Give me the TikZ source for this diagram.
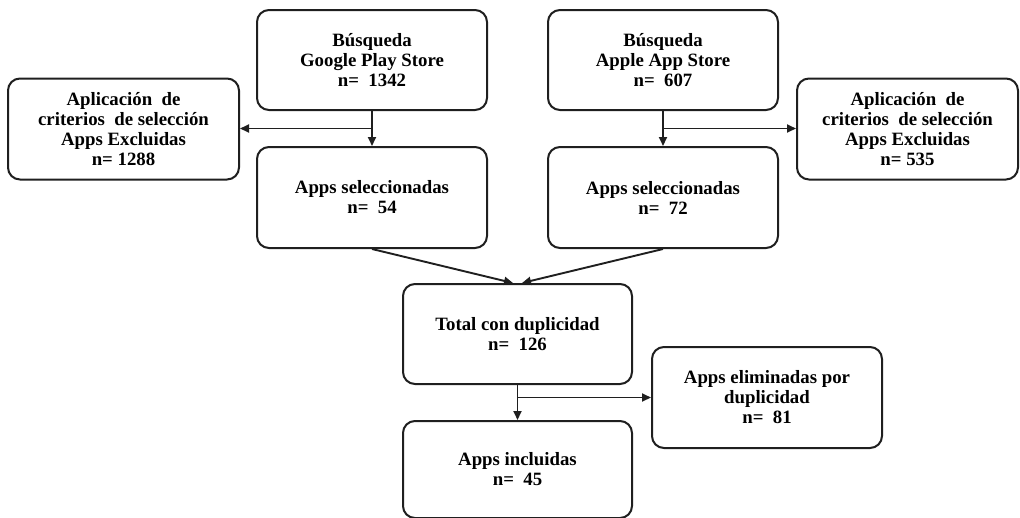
\documentclass[tikz,border=0pt]{standalone}
\usepackage{fontspec}
\setmainfont{Liberation Serif}
\usetikzlibrary{arrows.meta,calc}
\begin{document}
\begin{tikzpicture}[x=1pt,y=-1pt,
  flowbox/.style={draw=black!88, line width=2pt, rounded corners=12pt, align=center,
    inner sep=0pt, minimum width=#1, minimum height=100pt,
    font=\fontsize{18.8}{20}\selectfont\bfseries},
  flowbox/.default=230pt,
  arr/.style={draw=black!88, line width=1.9pt, -{Triangle[length=9pt,width=8pt]}}]
\useasboundingbox (0,0) rectangle (1020,517);
\clip (0,0) rectangle (1020,517);
\node[flowbox] (gps) at (372,60) {Búsqueda\\Google Play Store\\n=~ 1342};
\node[flowbox] (apple) at (663,60) {Búsqueda\\Apple App Store\\n=~ 607};
\node[flowbox=231pt, minimum height=101pt] (exL) at (123.5,129) {Aplicación~ de\\criterios~ de selección\\Apps Excluidas\\n= 1288};
\node[flowbox=221pt, minimum height=101pt] (exR) at (907.5,129) {Aplicación~ de\\criterios~ de selección\\Apps Excluidas\\n= 535};
\node[flowbox, minimum height=101pt] (selL) at (372,197.5) {Apps seleccionadas\\n=~ 54};
\node[flowbox, minimum height=101pt] (selR) at (663,197.5) {Apps seleccionadas\\n=~ 72};
\node[flowbox=229pt] (total) at (517.5,334) {Total con duplicidad\\n=~ 126};
\node[flowbox=229pt, minimum height=97pt] (incl) at (517.5,469.5) {Apps incluidas\\n=~ 45};
\node[flowbox, minimum height=101pt] (dup) at (767,397.5) {Apps eliminadas por\\duplicidad\\n=~ 81};
% left branch
\coordinate (bl) at ($(gps.south)!0.5!(selL.north)$);
\draw[arr] (gps.south) -- (selL.north);
\draw[arr] (bl) -- (bl -| exL.east);
% right branch
\coordinate (br) at ($(apple.south)!0.5!(selR.north)$);
\draw[arr] (apple.south) -- (selR.north);
\draw[arr] (br) -- (br -| exR.west);
% merge
\draw[arr] (selL.south) -- ([xshift=-4.5pt]total.north);
\draw[arr] (selR.south) -- ([xshift=4.5pt]total.north);
% bottom branch
\coordinate (bd) at (total.south |- dup.west);
\draw[arr] (total.south) -- (incl.north);
\draw[arr] (bd) -- (dup.west);
\end{tikzpicture}
\end{document}
